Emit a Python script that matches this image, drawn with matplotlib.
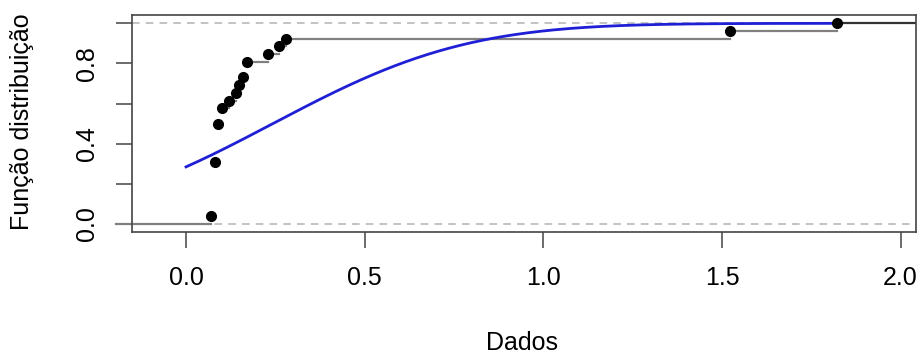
import numpy as np
import matplotlib
matplotlib.use("Agg")
import matplotlib.pyplot as plt
from math import erf, sqrt

# distinct data values and how many times each occurs (n = 26)
x_vals = [0.070, 0.081, 0.090, 0.100, 0.120, 0.140, 0.149, 0.160, 0.170,
          0.229, 0.260, 0.280, 1.523, 1.821]
counts = [1, 7, 5, 2, 1, 1, 1, 1, 2, 1, 1, 1, 1, 1]

x_ticks = [0.0, 0.5, 1.0, 1.5, 2.0]
x_labels = ["0.0", "0.5", "1.0", "1.5", "2.0"]
y_ticks = [0.0, 0.2, 0.4, 0.6, 0.8, 1.0]
y_labels = ["0.0", "", "0.4", "", "0.8", ""]

plt.rcParams['font.family'] = ['Liberation Sans', 'DejaVu Sans']

dados = np.repeat(x_vals, counts)
n = len(dados)
ecdf_y = np.cumsum(counts) / n

# normal fitted with the sample mean and sd
mu = dados.mean()
sigma = dados.std(ddof=1)

fig = plt.figure(figsize=(9.23, 3.56), dpi=100)
ax = fig.add_axes([0.1427, 0.3492, 0.8497, 0.6095])

xmin, xmax = -0.152, 2.043
ax.set_xlim(xmin, xmax)
ax.set_ylim(-0.038, 1.043)

# dashed guides at 0 and 1
ax.axhline(0, color="#b3b3b3", lw=1.1, ls=(0, (5, 4)), zorder=1)
ax.axhline(1, color="#b3b3b3", lw=1.1, ls=(0, (5, 4)), zorder=1)

# step function
step_col = "#808080"
ax.plot([-0.197, x_vals[0]], [0, 0], color=step_col, lw=1.6, clip_on=False, zorder=2)
for i in range(len(x_vals)):
    right = x_vals[i + 1] if i + 1 < len(x_vals) else xmax
    col = step_col if i + 1 < len(x_vals) else "#333333"
    ax.plot([x_vals[i], right], [ecdf_y[i], ecdf_y[i]], color=col, lw=1.6, zorder=2)
ax.plot(x_vals, ecdf_y, 'o', color="black", ms=7, zorder=4)

# theoretical normal cdf
xs = np.linspace(0, max(x_vals), 300)
ys = np.array([0.5 * (1 + erf((v - mu) / (sigma * sqrt(2)))) for v in xs])
ax.plot(xs, ys, color="#1f1fd6", lw=2, zorder=3)

ax.set_xticks(x_ticks)
ax.set_xticklabels(x_labels)
ax.set_yticks(y_ticks)
ax.set_yticklabels(y_labels, rotation=90, va="center")
ax.tick_params(axis="both", direction="out", length=11.5, width=1.1,
               color="#444444", labelsize=18, pad=12)
ax.tick_params(axis="x", pad=13)

for s in ax.spines.values():
    s.set_color("#444444")
    s.set_linewidth(1.2)

fig.text(522 / 923, 1 - 343 / 356, "Dados", fontsize=18, ha="center", va="center")
fig.text(22 / 923, 1 - 121.5 / 356, "Função distribuição", fontsize=18,
         ha="center", va="center", rotation=90)

fig.savefig("out.png", dpi=100)
